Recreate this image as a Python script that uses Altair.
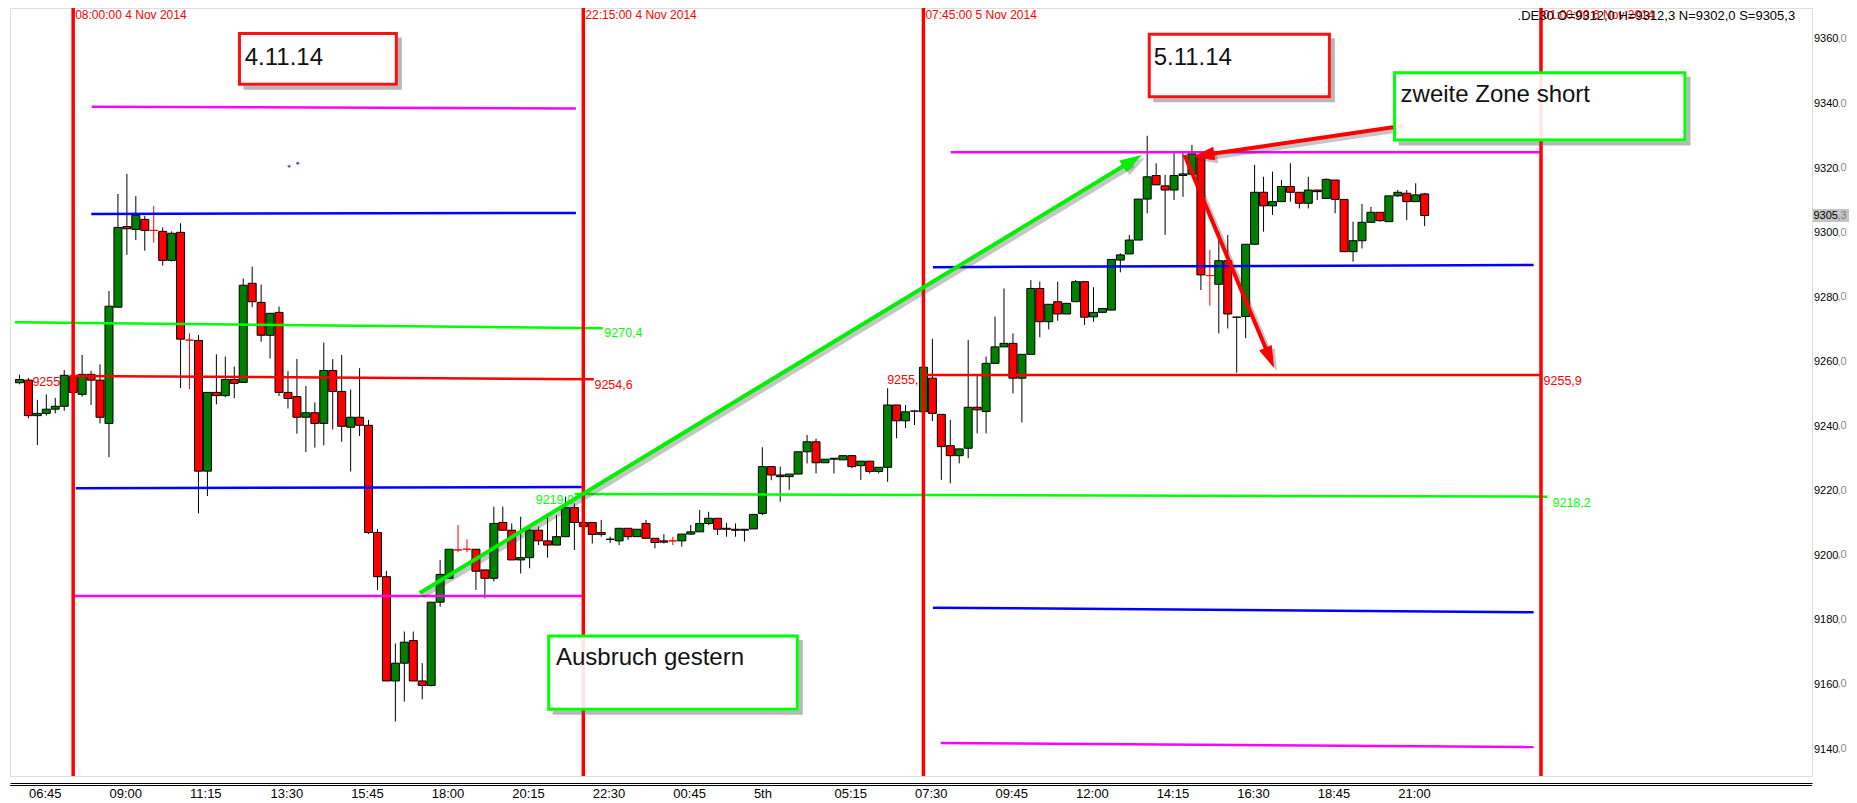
import math
import altair as alt
import pandas as pd

SANS = "Liberation Sans, Arial, sans-serif"

# ---------------- candle data: 15-minute bars, index 0 = 06:45 4 Nov 2014 ----------------
bar_index = list(range(-1, 157))
opens = [
    9253.5,
    9254.3, 9243.3, 9244.0, 9245.3, 9246.2, 9255.4, 9249.9, 9256.1, 9254.3, 9240.9,
    9276.9, 9301.9, 9301.0, 9304.1, 9300.7, 9300.4, 9291.4, 9300.1, 9266.7, 9266.6,
    9226.1, 9250.5, 9249.5, 9254.5, 9253.6, 9284.3, 9278.4, 9268.2, 9275.3, 9250.5,
    9249.2, 9242.8, 9244.2, 9240.9, 9257.3, 9250.8, 9239.7, 9242.8, 9240.3, 9207.1,
    9193.4, 9161.1, 9166.6, 9173.6, 9161.1, 9159.7, 9185.5, 9192.9, 9201.7, 9201.9,
    9201.9, 9195.5, 9192.9, 9210.2, 9207.8, 9198.6, 9199.3, 9207.8, 9204.5, 9203.2,
    9205.8, 9214.8, 9210.2, 9210.2, 9207.1, 9205.0, 9204.5, 9208.4, 9205.8, 9209.9,
    9205.3, 9204.5, 9204.5, 9204.5, 9206.6, 9207.3, 9209.9, 9211.5, 9208.4, 9208.1,
    9207.8, 9208.2, 9213.0, 9227.5, 9224.9, 9224.4, 9225.2, 9232.1, 9235.2, 9228.7,
    9229.8, 9229.6, 9230.9, 9227.8, 9229.2, 9226.0, 9227.3, 9246.6, 9241.7, 9244.7,
    9244.5, 9254.9, 9243.7, 9234.0, 9230.9, 9233.2, 9245.9, 9244.6, 9259.5, 9264.6,
    9265.7, 9254.9, 9262.3, 9282.7, 9272.4, 9278.6, 9274.8, 9278.6, 9284.8, 9273.9,
    9275.3, 9276.0, 9291.5, 9293.4, 9297.7, 9310.4, 9317.7, 9314.5, 9313.2, 9317.7,
    9318.1, 9324.0, 9286.7, 9284.0, 9291.3, 9273.8, 9274.0, 9296.4, 9312.5, 9308.3,
    9309.6, 9314.3, 9312.5, 9309.1, 9313.2, 9310.6, 9316.3, 9310.3, 9294.1, 9297.5,
    9303.2, 9306.3, 9303.4, 9311.4, 9312.2, 9309.6, 9312.0,
]
highs = [
    9256.0,
    9255.0, 9248.2, 9249.9, 9248.8, 9257.4, 9256.5, 9262.1, 9257.2, 9259.2, 9281.9,
    9312.0, 9318.2, 9311.3, 9305.2, 9308.3, 9301.6, 9300.4, 9302.9, 9268.8, 9268.3,
    9250.5, 9262.3, 9261.6, 9258.5, 9285.8, 9289.5, 9283.9, 9275.0, 9277.1, 9257.1,
    9260.9, 9252.5, 9247.4, 9265.9, 9260.8, 9262.1, 9251.4, 9258.0, 9242.0, 9208.2,
    9195.2, 9172.7, 9176.4, 9176.4, 9166.6, 9185.5, 9198.6, 9201.9, 9209.4, 9205.0,
    9201.9, 9195.5, 9215.1, 9215.1, 9209.9, 9212.0, 9208.4, 9208.9, 9212.0, 9212.5,
    9218.2, 9216.1, 9212.0, 9210.2, 9211.0, 9205.8, 9208.4, 9208.4, 9208.1, 9211.0,
    9205.3, 9206.6, 9205.8, 9206.6, 9209.4, 9214.1, 9213.5, 9211.5, 9210.1, 9209.9,
    9208.1, 9212.7, 9233.5, 9227.5, 9227.5, 9225.2, 9232.1, 9237.3, 9236.2, 9229.8,
    9230.1, 9230.9, 9231.1, 9229.2, 9229.2, 9227.3, 9251.8, 9246.6, 9246.6, 9245.1,
    9258.3, 9267.1, 9243.7, 9242.0, 9233.0, 9266.7, 9255.9, 9261.6, 9274.0, 9282.7,
    9268.8, 9262.3, 9285.3, 9284.8, 9277.8, 9284.8, 9278.1, 9285.3, 9284.8, 9283.1,
    9276.5, 9291.7, 9293.6, 9299.3, 9310.4, 9330.0, 9321.5, 9317.9, 9324.6, 9324.6,
    9327.2, 9324.0, 9294.6, 9300.3, 9299.3, 9274.0, 9296.4, 9321.0, 9317.3, 9318.9,
    9316.3, 9321.5, 9312.5, 9317.3, 9313.2, 9316.8, 9316.3, 9310.3, 9303.4, 9308.9,
    9308.0, 9306.3, 9311.4, 9313.2, 9313.2, 9315.3, 9312.3,
]
lows = [
    9253.0,
    9242.5, 9234.2, 9243.3, 9244.0, 9244.8, 9249.0, 9249.2, 9246.6, 9240.9, 9230.4,
    9276.9, 9293.1, 9297.7, 9294.4, 9296.9, 9289.8, 9291.0, 9251.8, 9251.5, 9213.0,
    9218.4, 9246.8, 9249.0, 9248.7, 9253.6, 9276.9, 9266.2, 9261.0, 9249.4, 9245.5,
    9237.7, 9232.0, 9233.4, 9234.1, 9239.0, 9235.2, 9226.0, 9237.0, 9206.6, 9189.3,
    9161.1, 9148.5, 9154.7, 9161.1, 9155.4, 9159.4, 9184.1, 9192.9, 9201.0, 9201.0,
    9189.3, 9186.7, 9191.9, 9207.8, 9198.6, 9194.4, 9196.0, 9203.2, 9199.3, 9203.2,
    9205.8, 9201.7, 9206.0, 9203.7, 9205.8, 9203.8, 9203.2, 9204.8, 9205.8, 9205.3,
    9202.2, 9203.7, 9203.2, 9202.7, 9206.3, 9207.3, 9209.4, 9206.3, 9205.8, 9205.8,
    9204.3, 9208.2, 9212.5, 9223.3, 9216.6, 9220.3, 9225.2, 9228.5, 9225.4, 9228.7,
    9225.4, 9229.6, 9227.0, 9223.4, 9225.4, 9225.4, 9222.8, 9236.3, 9239.4, 9240.4,
    9244.5, 9241.6, 9223.4, 9222.3, 9228.5, 9230.1, 9237.8, 9237.8, 9259.5, 9264.6,
    9250.2, 9241.2, 9262.3, 9267.6, 9270.0, 9272.7, 9274.8, 9278.6, 9271.4, 9272.4,
    9275.0, 9276.0, 9287.7, 9293.4, 9297.7, 9306.0, 9314.8, 9299.3, 9310.1, 9311.1,
    9317.9, 9282.2, 9277.4, 9268.8, 9270.3, 9256.6, 9267.3, 9296.4, 9300.3, 9305.5,
    9309.6, 9309.6, 9307.5, 9307.5, 9310.1, 9310.6, 9306.0, 9294.1, 9291.0, 9295.1,
    9303.2, 9303.4, 9303.4, 9311.1, 9303.9, 9309.6, 9302.0,
]
closes = [
    9254.5,
    9243.3, 9244.0, 9245.3, 9246.2, 9255.8, 9250.5, 9256.1, 9254.3, 9242.8, 9277.2,
    9301.6, 9301.2, 9305.4, 9300.7, 9300.7, 9291.4, 9299.8, 9267.0, 9266.7, 9226.1,
    9250.5, 9249.5, 9254.5, 9253.3, 9283.7, 9278.6, 9268.2, 9275.0, 9250.5, 9248.6,
    9242.8, 9244.2, 9240.9, 9257.3, 9250.8, 9240.0, 9242.8, 9240.3, 9207.1, 9193.4,
    9161.1, 9166.6, 9173.1, 9161.1, 9159.7, 9185.5, 9194.1, 9201.9, 9201.7, 9201.9,
    9195.1, 9192.9, 9209.9, 9207.8, 9198.6, 9199.3, 9207.8, 9204.5, 9203.2, 9205.8,
    9214.8, 9210.2, 9208.9, 9206.5, 9206.5, 9205.0, 9208.4, 9205.8, 9208.1, 9205.3,
    9204.0, 9204.1, 9204.5, 9206.6, 9207.3, 9209.9, 9211.5, 9208.1, 9208.1, 9207.8,
    9208.1, 9212.7, 9227.5, 9224.9, 9224.4, 9225.2, 9232.1, 9235.2, 9228.7, 9229.8,
    9230.1, 9230.9, 9227.5, 9229.2, 9226.0, 9227.3, 9246.6, 9241.7, 9244.5, 9244.7,
    9258.3, 9244.0, 9233.7, 9230.9, 9233.0, 9245.9, 9245.1, 9259.5, 9264.6, 9265.7,
    9254.9, 9262.3, 9282.7, 9272.4, 9277.8, 9274.8, 9278.1, 9284.8, 9273.8, 9275.3,
    9276.5, 9291.7, 9293.1, 9297.7, 9310.4, 9317.3, 9314.8, 9313.2, 9317.7, 9318.2,
    9324.4, 9286.9, 9286.7, 9291.3, 9274.8, 9273.8, 9296.4, 9312.5, 9308.3, 9309.6,
    9314.3, 9312.5, 9309.1, 9313.2, 9312.7, 9316.5, 9310.3, 9294.1, 9297.5, 9303.2,
    9306.3, 9303.7, 9311.4, 9312.5, 9309.6, 9311.7, 9305.3,
]
doji_red = [14, 18, 48, 49, 72, 132]
doji_black = [65, 99, 135]

# ---------------- axes ----------------
x_tick_index = [0, 9, 18, 27, 36, 45, 54, 63, 72, 81, 90, 99, 108, 117, 126, 135, 144, 153]
x_tick_labels = ["06:45", "09:00", "11:15", "13:30", "15:45", "18:00", "20:15", "22:30", "00:45",
                 "5th", "05:15", "07:30", "09:45", "12:00", "14:15", "16:30", "18:45", "21:00"]
y_ticks = [9140, 9160, 9180, 9200, 9220, 9240, 9260, 9280, 9300, 9320, 9340, 9360]
X_DOMAIN = [-1.5, 198.72]
Y_DOMAIN = [9131.65, 9369.6]
W, H = 1802, 768

# ---------------- session level lines ----------------
level_names = ["m1", "b1", "g1", "r1", "b2", "m2", "g2", "m3", "b3", "r2", "b4", "m4"]
level_start_idx = [7.06, 7.02, -1.5, 4.6, 5.28, 5.06, 61.06, 103.06, 101.06, 100.28, 101.06, 101.94]
level_start_price = [9339.0, 9305.8, 9272.2, 9255.6, 9220.8, 9187.4, 9219.0, 9324.9, 9289.3, 9255.9, 9183.8, 9141.9]
level_end_idx = [61.17, 61.17, 64.17, 63.17, 61.83, 61.94, 169.72, 168.94, 168.17, 168.94, 168.17, 168.17]
level_end_price = [9338.5, 9306.1, 9270.4, 9254.6, 9221.2, 9187.4, 9218.2, 9324.9, 9290.0, 9255.9, 9182.4, 9140.6]
level_colors = ["#FF00FF", "#0000FF", "#00FF00", "#FF0000", "#0000FF", "#FF00FF",
                "#00FF00", "#FF00FF", "#0000FF", "#FF0000", "#0000FF", "#FF00FF"]

level_label_text = ["9255,9", "9254,6", "9270,4", "9219,0", "9255,9", "9255,9", "9218,2"]
level_label_idx = [4.83, 63.13, 64.23, 61.06, 100.33, 169.17, 170.17]
level_label_price = [9255.6, 9254.75, 9270.8, 9219.1, 9256.3, 9255.9, 9218.1]
level_label_align = ["right", "left", "left", "right", "right", "left", "left"]
level_label_color = ["#FF0000", "#FF0000", "#00FF00", "#00FF00", "#FF0000", "#FF0000", "#00FF00"]

# ---------------- vertical session separators ----------------
vline_idx = [5, 62, 100, 169]
vline_text = ["08:00:00 4 Nov 2014", "22:15:00 4 Nov 2014", "07:45:00 5 Nov 2014", "01:00:00 6 Nov 2014"]
info_text = ".DE30 O=9312,0 H=9312,3 N=9302,0 S=9305,3"
info_idx = 197.4
last_price = 9305.3

# ---------------- annotations ----------------
box_text = ["4.11.14", "5.11.14", "zweite Zone short", "Ausbruch gestern"]
box_i0 = [23.58, 125.23, 152.64, 58.13]
box_i1 = [41.11, 145.36, 185.09, 85.91]
box_ptop = [9361.7, 9361.46, 9349.56, 9175.03]
box_pbot = [9346.0, 9342.12, 9328.71, 9152.32]
box_color = ["#FF1010", "#FF1010", "#00FF00", "#00FF00"]
text_idx = [24.17, 125.72, 153.31, 58.94]
text_price = [9351.94, 9351.94, 9340.57, 9166.04]

arrow_names = ["green", "red1", "red2"]
arrow_start_idx = [43.72, 153.61, 129.17]
arrow_start_price = [9188.35, 9333.14, 9324.06]
arrow_end_idx = [124.39, 130.06, 139.17]
arrow_end_price = [9324.06, 9323.53, 9258.06]
arrow_colors = ["#00F000", "#FF0000", "#FF0000"]

dot_idx = [29.13, 30.09]
dot_price = [9320.56, 9321.5]

# ---------------- derived tables ----------------
SX = W / (X_DOMAIN[1] - X_DOMAIN[0])
SY = H / (Y_DOMAIN[1] - Y_DOMAIN[0])

rows = []
for i, o, h, l, c in zip(bar_index, opens, highs, lows, closes):
    if i in doji_red:
        fill, stroke, wick = "#FF0000", "#FF0000", "#FF0000"
    elif i in doji_black:
        fill, stroke, wick = "#000000", "#000000", "#000000"
    elif c >= o:
        fill, stroke, wick = "#008000", "#000000", "#000000"
    else:
        fill, stroke, wick = "#FF0000", "#000000", "#000000"
    rows.append(dict(i=i, o=o, h=h, l=l, c=c, fill=fill, stroke=stroke, wick=wick))
candles = pd.DataFrame(rows)

lv = []
for n, i0, p0, i1, p1, col in zip(level_names, level_start_idx, level_start_price,
                                  level_end_idx, level_end_price, level_colors):
    lv.append(dict(seg=n, i=i0, p=p0, col=col))
    lv.append(dict(seg=n, i=i1, p=p1, col=col))
levels = pd.DataFrame(lv)

labels = pd.DataFrame(dict(t=level_label_text, i=level_label_idx, p=level_label_price,
                           a=level_label_align, col=level_label_color))
vlines = pd.DataFrame(dict(i=vline_idx, t=vline_text))

HEAD_LEN = 22.0
HEAD_R = HEAD_LEN / 2.0
shaft, shadow, heads = [], [], []
for n, i0, p0, i1, p1, col in zip(arrow_names, arrow_start_idx, arrow_start_price,
                                  arrow_end_idx, arrow_end_price, arrow_colors):
    dx = (i1 - i0) * SX
    dy = -(p1 - p0) * SY
    L = math.hypot(dx, dy)
    ux, uy = dx / L, dy / L
    ang = math.degrees(math.atan2(dx, -dy)) % 360
    ei = i1 - ux * HEAD_LEN * 0.6 / SX
    ep = p1 + uy * HEAD_LEN * 0.6 / SY
    shaft += [dict(a=n, k=0, i=i0, p=p0, col=col), dict(a=n, k=1, i=ei, p=ep, col=col)]
    so_i, so_p = 3.0 / SX, -3.0 / SY
    shadow += [dict(a=n, k=0, i=i0 + so_i, p=p0 + so_p), dict(a=n, k=1, i=ei + so_i, p=ep + so_p)]
    heads.append(dict(i=i1, p=p1, ang=ang, col=col, si=i1 + so_i, sp=p1 + so_p))
shaft = pd.DataFrame(shaft)
shadow = pd.DataFrame(shadow)
heads = pd.DataFrame(heads)

boxes = pd.DataFrame(dict(t=box_text, i0=box_i0, i1=box_i1, pt=box_ptop, pb=box_pbot, col=box_color,
                          ti=text_idx, tp=text_price))
# L-shaped drop shadow (bottom strip + right strip) just outside each box border
EDGE, OFF = 1.5, 4.0
sh = []
for _, b in boxes.iterrows():
    sh.append(dict(x0=b.i0 + OFF / SX, x1=b.i1 + (EDGE + OFF) / SX,
                   y0=b.pb - EDGE / SY, y1=b.pb - (EDGE + OFF) / SY))
    sh.append(dict(x0=b.i1 + EDGE / SX, x1=b.i1 + (EDGE + OFF) / SX,
                   y0=b.pt - OFF / SY, y1=b.pb - EDGE / SY))
box_shadow_df = pd.DataFrame(sh)

XS = alt.Scale(domain=X_DOMAIN, nice=False, zero=False)
YS = alt.Scale(domain=Y_DOMAIN, nice=False, zero=False)

arr_x = "[" + ",".join(str(v) for v in x_tick_index) + "]"
arr_l = "[" + ",".join("'" + s + "'" for s in x_tick_labels) + "]"
XAX = alt.Axis(values=x_tick_index, labelExpr=f"{arr_l}[indexof({arr_x}, datum.value)]",
               labelAlign="left", ticks=False, tickSize=0, domain=True, domainColor="black",
               domainWidth=1, offset=7, labelPadding=4, labelFont=SANS, labelFontSize=13,
               labelColor="black", title=None, grid=False, labelOverlap=False, labelFlush=False,
               labelBound=False)
YAX = alt.Axis(orient="right", values=y_ticks, labelExpr="format(datum.value, 'd')", ticks=False,
               tickSize=0, domain=False, labelPadding=1.5, labelFont=SANS, labelFontSize=11,
               labelColor="black", title=None, grid=False, labelOverlap=False, labelFlush=False,
               labelBaseline="middle")


def X(f):
    return alt.X(f, type="quantitative", scale=XS, axis=XAX)


def Y(f):
    return alt.Y(f, type="quantitative", scale=YS, axis=YAX)


# level labels (under candles)
lab_left = alt.Chart(labels[labels.a == "left"]).mark_text(
    align="left", baseline="top", font=SANS, fontSize=12.5, dx=1
).encode(x=X("i"), y=Y("p"), text="t:N", color=alt.Color("col:N", scale=None))
lab_right = alt.Chart(labels[labels.a == "right"]).mark_text(
    align="right", baseline="top", font=SANS, fontSize=12.5, dx=-1
).encode(x=X("i"), y=Y("p"), text="t:N", color=alt.Color("col:N", scale=None))

wicks = alt.Chart(candles).mark_rule(strokeWidth=1).encode(
    x=X("i"), y=Y("l"), y2="h:Q", color=alt.Color("wick:N", scale=None))
bodies = alt.Chart(candles).mark_bar(size=8, strokeWidth=1).encode(
    x=X("i"), y=Y("o"), y2="c:Q", fill=alt.Fill("fill:N", scale=None),
    stroke=alt.Stroke("stroke:N", scale=None))

level_lines = alt.Chart(levels).mark_line(strokeWidth=2.5).encode(
    x=X("i"), y=Y("p"), detail="seg:N", color=alt.Color("col:N", scale=None))

dots = alt.Chart(pd.DataFrame(dict(i=dot_idx, p=dot_price))).mark_point(
    shape="cross", filled=True, size=10, color="#0000FF").encode(x=X("i"), y=Y("p"))

vrules = alt.Chart(vlines).mark_rule(strokeWidth=3.5, color="#FF0000").encode(x=X("i"))
vtexts = alt.Chart(vlines).mark_text(
    align="left", baseline="top", font=SANS, fontSize=12, color="#FF0000", dx=2
).encode(x=X("i"), y=alt.value(2), text="t:N")
info = alt.Chart(pd.DataFrame(dict(i=[info_idx], t=[info_text]))).mark_text(
    align="right", baseline="top", font=SANS, fontSize=13, color="black"
).encode(x=X("i"), y=alt.value(2), text="t:N")

# axis label suffixes and last price marker
suffix = alt.Chart(pd.DataFrame(dict(p=y_ticks))).mark_text(
    align="left", baseline="middle", font=SANS, fontSize=11, color="#8a8a8a"
).encode(x=alt.value(W + 25.5), y=Y("p"), text=alt.value(",0"))
lp = pd.DataFrame(dict(p=[last_price], pt=[last_price + 6.5 / SY], pb=[last_price - 6.5 / SY],
                       a=[str(int(last_price))], b=["," + str(last_price).split(".")[1]]))
lp_rect = alt.Chart(lp).mark_rect(color="#C4C4C4").encode(
    x=alt.value(W + 1), x2=alt.value(W + 40), y=Y("pt"), y2="pb:Q")
lp_a = alt.Chart(lp).mark_text(align="left", baseline="middle", font=SANS, fontSize=11,
                               color="black").encode(x=alt.value(W + 1.5), y=Y("p"), text="a:N")
lp_b = alt.Chart(lp).mark_text(align="left", baseline="middle", font=SANS, fontSize=11,
                               color="#7a7a7a").encode(x=alt.value(W + 25.5), y=Y("p"), text="b:N")
second_line = alt.Chart(pd.DataFrame(dict(k=[0]))).mark_rule(color="black", strokeWidth=1).encode(
    x=alt.value(0), x2=alt.value(W), y=alt.value(H + 9.5))

# arrows
ARROW_PATH = "M0,0 L0.62,2 L-0.62,2 Z"
arrow_shadow = alt.Chart(shadow).mark_line(strokeWidth=5, color="#404040", opacity=0.3).encode(
    x=X("i"), y=Y("p"), detail="a:N", order="k:Q")
head_shadow = alt.Chart(heads).mark_point(shape=ARROW_PATH, filled=True, size=(2 * HEAD_R) ** 2,
                                          color="#404040", opacity=0.3).encode(
    x=X("si"), y=Y("sp"), angle=alt.Angle("ang:Q", scale=None))
arrow_lines = alt.Chart(shaft).mark_line(strokeWidth=4).encode(
    x=X("i"), y=Y("p"), detail="a:N", order="k:Q", color=alt.Color("col:N", scale=None))
arrow_heads = alt.Chart(heads).mark_point(shape=ARROW_PATH, filled=True, size=(2 * HEAD_R) ** 2,
                                          opacity=1).encode(
    x=X("i"), y=Y("p"), angle=alt.Angle("ang:Q", scale=None), color=alt.Color("col:N", scale=None))

# text boxes
box_shadow = alt.Chart(box_shadow_df).mark_rect(color="#606060", opacity=0.45).encode(
    x=X("x0"), x2="x1:Q", y=Y("y0"), y2="y1:Q")
box_rect = alt.Chart(boxes).mark_rect(fill="white", fillOpacity=0.9, strokeWidth=3).encode(
    x=X("i0"), x2="i1:Q", y=Y("pt"), y2="pb:Q", stroke=alt.Stroke("col:N", scale=None))
box_txt = alt.Chart(boxes).mark_text(align="left", baseline="alphabetic", font=SANS, fontSize=24,
                                     color="#111111").encode(x=X("ti"), y=Y("tp"), text="t:N")

chart = alt.layer(
    lab_left, lab_right, wicks, bodies, level_lines, dots, vrules, vtexts, info,
    suffix, lp_rect, lp_a, lp_b, second_line,
    arrow_shadow, head_shadow, arrow_lines, arrow_heads,
    box_shadow, box_rect, box_txt,
).properties(
    width=W, height=H,
    padding={"left": 2, "top": 0, "right": 37, "bottom": 25},
    autosize=alt.AutoSizeParams(type="none"),
).configure_view(stroke="black", strokeWidth=1).configure(background="white")

chart.save("out.html", embed_options={"renderer": "svg", "actions": False})
